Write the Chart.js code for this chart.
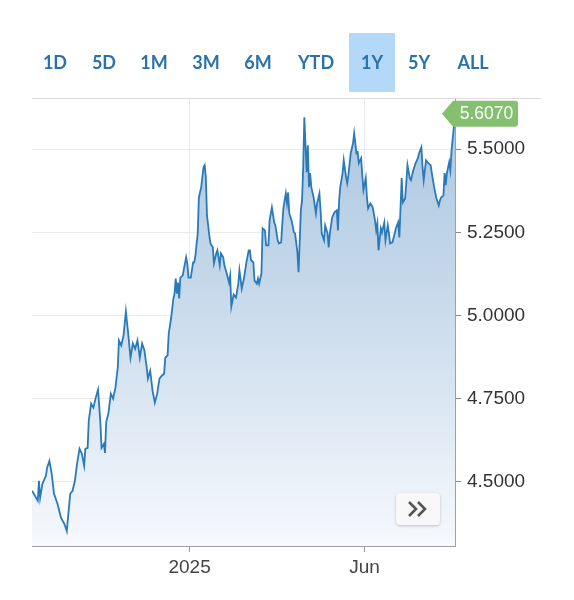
<!DOCTYPE html>
<html>
<head>
<meta charset="utf-8">
<script src="https://cdn.jsdelivr.net/npm/chart.js@4"></script>
<style>
  html, body { margin: 0; padding: 0; background: #fff; }
  #wrap { position: relative; width: 574px; height: 600px; overflow: hidden; }
  canvas { position: absolute; left: 0; top: 0; }
  .rbtn { position: absolute; top: 33px; height: 59px; line-height: 59px; text-align: center;
          font-family: Lato, "Open Sans", sans-serif; font-weight: 700; font-size: 18px; color: #2a72ab; }
  .rbtn.active { background: #b3d8f8; }
  #more { position: absolute; left: 396px; top: 493px; width: 44px; height: 32px; border-radius: 4px;
          background: #f8f8f8; box-shadow: 0 1px 3px rgba(0,0,0,0.22); }
</style>
</head>
<body>
<div id="wrap">
  <canvas id="c" width="574" height="600"></canvas>
  <div id="buttons"></div>
  <div id="more">
    <svg width="44" height="32" viewBox="0 0 44 32">
      <polyline points="13,9 20,16 13,23" fill="none" stroke="#555" stroke-width="2.6" stroke-linejoin="miter"/>
      <polyline points="22,9 29,16 22,23" fill="none" stroke="#555" stroke-width="2.6" stroke-linejoin="miter"/>
    </svg>
  </div>
</div>
<script>
// ---- data ----
// day offsets from 2024-08-18
const dayOffsets = [0,5,6,7,9,12,13,15,17,19,22,25,28,30,33,35,37,39,41,43,45,46,48,49,51,53,55,57,59,60,
62,63,64,66,68,70,72,74,75,77,79,81,83,85,87,89,91,93,95,97,99,100,102,104,106,108,110,112,114,115,
117,118,120,122,123,124,125,126,127,128,130,133,134,135,137,139,140,141,143,144,146,148,149,150,151,153,154,156,157,159,
160,162,163,165,166,168,170,171,172,174,176,178,179,181,183,185,187,188,189,191,192,194,195,196,198,199,201,202,204,205,
207,209,210,212,213,215,216,217,219,220,221,222,224,226,227,229,230,232,233,234,235,236,237,238,239,240,241,243,245,246,
248,249,250,252,253,255,256,257,259,261,263,264,265,266,268,269,271,272,273,275,277,278,279,280,281,282,284,285,286,288,
289,290,292,294,296,297,298,299,301,302,304,305,307,308,309,311,314,316,317,319,320,322,323,324,326,327,329,331,333,334,
336,337,338,340,342,344,345,347,349,351,352,353,355,356,357,358,360,361,362,364,365];
const rates = [4.473,4.443,4.503,4.452,4.494,4.518,4.542,4.563,4.524,4.464,4.434,4.392,4.373,4.352,4.464,4.473,4.503,4.557,4.599,4.584,4.548,4.599,4.602,4.684,4.735,4.723,4.753,4.777,4.678,4.602,
4.614,4.587,4.678,4.708,4.765,4.750,4.783,4.843,4.925,4.910,4.940,5.012,4.946,4.873,4.916,4.900,4.925,4.873,4.916,4.895,4.843,4.810,4.834,4.774,4.738,4.765,4.810,4.819,4.825,4.873,
4.880,4.946,4.991,5.051,5.066,5.111,5.066,5.099,5.051,5.114,5.120,5.175,5.157,5.114,5.114,5.160,5.160,5.181,5.247,5.355,5.386,5.446,5.452,5.416,5.301,5.241,5.217,5.205,5.157,5.187,
5.196,5.151,5.187,5.175,5.151,5.127,5.099,5.120,5.027,5.063,5.054,5.095,5.136,5.081,5.114,5.160,5.196,5.196,5.166,5.160,5.105,5.096,5.111,5.096,5.127,5.262,5.256,5.211,5.211,5.286,
5.325,5.280,5.271,5.226,5.217,5.220,5.277,5.325,5.367,5.337,5.370,5.307,5.286,5.250,5.247,5.190,5.130,5.316,5.346,5.446,5.596,5.512,5.431,5.512,5.386,5.428,5.386,5.355,5.307,5.337,
5.367,5.316,5.247,5.226,5.271,5.247,5.205,5.247,5.295,5.310,5.316,5.256,5.346,5.386,5.428,5.467,5.416,5.398,5.422,5.488,5.518,5.548,5.518,5.488,5.491,5.458,5.473,5.422,5.377,5.413,
5.355,5.322,5.337,5.325,5.286,5.256,5.277,5.196,5.262,5.250,5.280,5.226,5.271,5.247,5.217,5.220,5.262,5.280,5.235,5.413,5.340,5.352,5.401,5.452,5.413,5.407,5.437,5.458,5.473,5.488,
5.506,5.446,5.407,5.467,5.458,5.452,5.428,5.386,5.352,5.331,5.346,5.355,5.361,5.428,5.392,5.428,5.461,5.437,5.497,5.566,5.607];

const xTickDays = [136, 287];
const xTickLabels = ['2025', 'Jun'];
const yTickValues = [4.5, 4.75, 5.0, 5.25, 5.5];
const rangeLabels = ['1D','5D','1M','3M','6M','YTD','1Y','5Y','ALL'];
const activeRange = '1Y';

// ---- range buttons ----
const btnCenters = [55, 104, 154, 206, 258, 316, 372, 419, 473];
const btnWrap = document.getElementById('buttons');
rangeLabels.forEach((lab, i) => {
  const d = document.createElement('div');
  d.className = 'rbtn' + (lab === activeRange ? ' active' : '');
  const w = 46;
  d.style.left = (btnCenters[i] - w / 2) + 'px';
  d.style.width = w + 'px';
  d.textContent = lab;
  btnWrap.appendChild(d);
});

const points = dayOffsets.map((d, i) => ({ x: d, y: rates[i] }));
const lastVal = rates[rates.length - 1];

const decor = {
  id: 'decor',
  afterDraw(chart) {
    const ctx = chart.ctx, ca = chart.chartArea;
    ctx.save();
    // top border line
    ctx.strokeStyle = '#dcdcdc';
    ctx.lineWidth = 1;
    ctx.beginPath();
    ctx.moveTo(ca.left, ca.top + 0.5);
    ctx.lineTo(541, ca.top + 0.5);
    ctx.stroke();
    // last value tag
    const yc = chart.scales.y.getPixelForValue(lastVal);
    const h = 26, tip = 442, bx = 453, bx2 = 518, r = 3;
    ctx.fillStyle = '#84c070';
    ctx.beginPath();
    ctx.moveTo(tip, yc);
    ctx.lineTo(bx, yc - h / 2);
    ctx.lineTo(bx2 - r, yc - h / 2);
    ctx.quadraticCurveTo(bx2, yc - h / 2, bx2, yc - h / 2 + r);
    ctx.lineTo(bx2, yc + h / 2 - r);
    ctx.quadraticCurveTo(bx2, yc + h / 2, bx2 - r, yc + h / 2);
    ctx.lineTo(bx, yc + h / 2);
    ctx.closePath();
    ctx.fill();
    ctx.fillStyle = '#ffffff';
    ctx.font = '17.5px "Liberation Sans", Arial, sans-serif';
    ctx.textAlign = 'center';
    ctx.textBaseline = 'middle';
    ctx.fillText(lastVal.toFixed(4), (bx + bx2) / 2 + 1, yc + 1);
    ctx.restore();
  }
};

new Chart(document.getElementById('c'), {
  type: 'line',
  data: {
    datasets: [{
      data: points,
      borderColor: '#2a7aba',
      borderWidth: 1.8,
      pointRadius: 0,
      tension: 0,
      fill: 'start',
      backgroundColor: (ctx) => {
        const ca = ctx.chart.chartArea;
        if (!ca) return 'rgba(170,200,225,0.5)';
        const g = ctx.chart.ctx.createLinearGradient(0, ca.top, 0, ca.bottom);
        g.addColorStop(0, '#a9c5df');
        g.addColorStop(0.45, '#c8daeb');
        g.addColorStop(1, '#f6f9fd');
        return g;
      }
    }]
  },
  options: {
    responsive: false,
    animation: false,
    layout: { padding: { left: 32, top: 98, right: 0, bottom: 0 } },
    plugins: { legend: { display: false }, tooltip: { enabled: false } },
    scales: {
      x: {
        type: 'linear',
        min: 0, max: 365,
        afterBuildTicks: (s) => { s.ticks = xTickDays.map(v => ({ value: v })); },
        afterFit: (s) => { s.height = 54; },
        ticks: {
          autoSkip: false, maxRotation: 0, padding: 4,
          color: '#444',
          font: { family: '"Liberation Sans", Arial, sans-serif', size: 19 },
          callback: (v, i) => xTickLabels[i]
        },
        grid: { color: '#e9e9e9', tickColor: '#999', tickLength: 6 },
        border: { color: '#a0a0a0' }
      },
      y: {
        position: 'right',
        min: 4.307, max: 5.654,
        afterBuildTicks: (s) => { s.ticks = yTickValues.map(v => ({ value: v })); },
        afterFit: (s) => { s.width = 119; },
        ticks: {
          padding: 6, color: '#333',
          font: { family: '"Liberation Sans", Arial, sans-serif', size: 19 },
          callback: (v) => Number(v).toFixed(4)
        },
        grid: { color: '#ebebeb', tickColor: '#888', tickLength: 6 },
        border: { color: '#a0a0a0' }
      }
    }
  },
  plugins: [decor]
});
</script>
</body>
</html>
